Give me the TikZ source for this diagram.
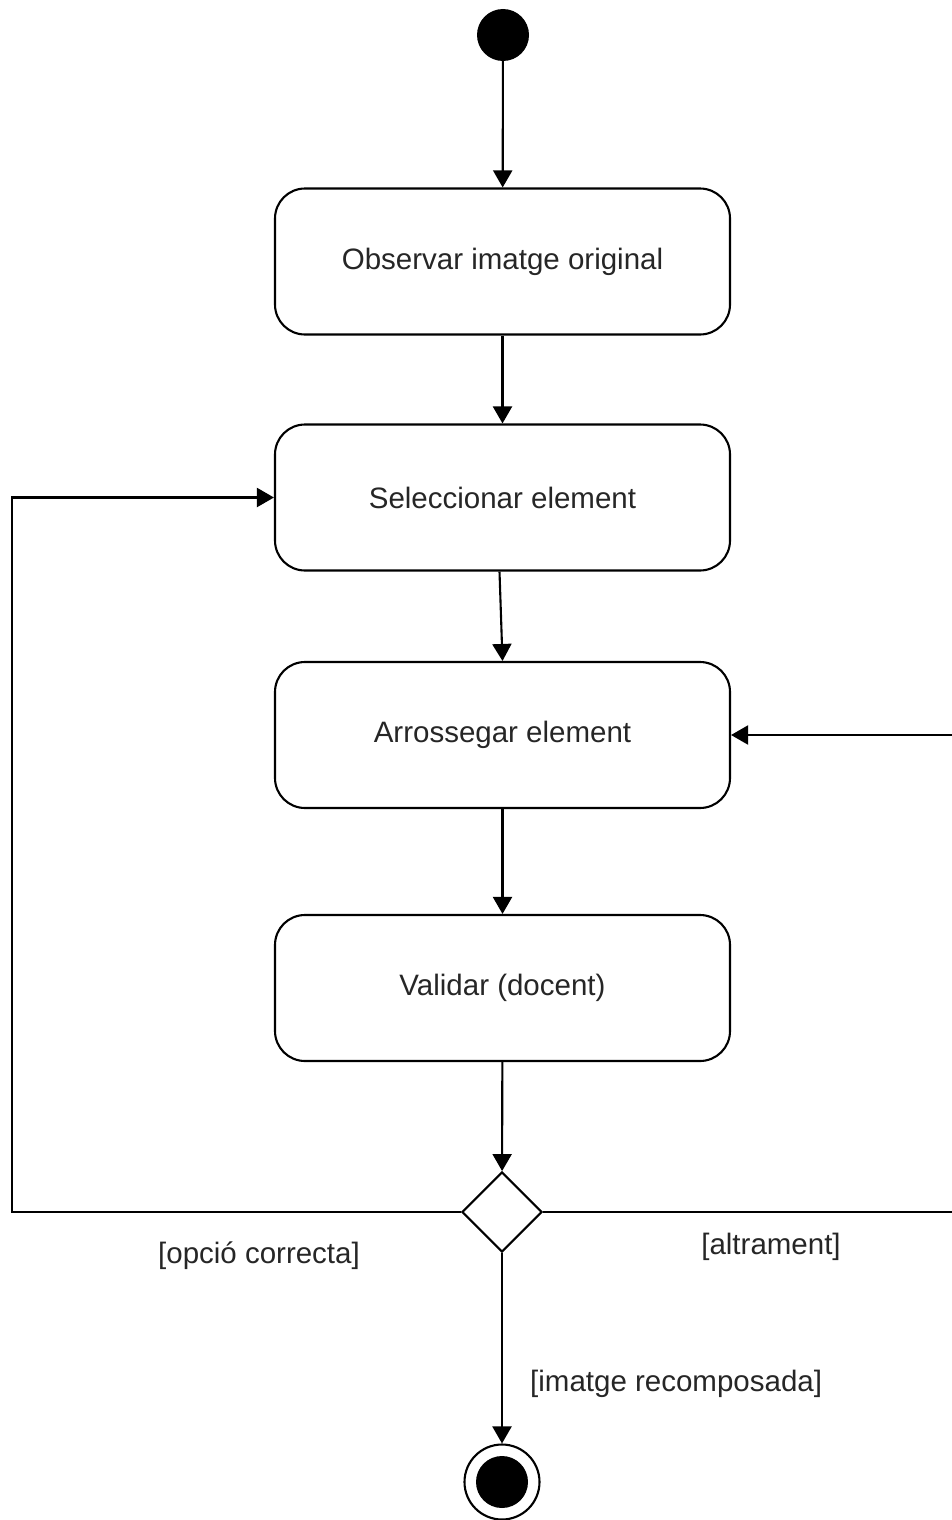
\documentclass[tikz,border=0pt]{standalone}
\usepackage{fontspec}
\setmainfont{Liberation Sans}
\usetikzlibrary{arrows.meta,shapes.geometric}
\begin{document}
\begin{tikzpicture}[x=1pt,y=-1pt,
  every node/.style={font=\fontsize{29.5}{34}\selectfont, text=black!85},
  action/.style={draw, line width=2.1pt, rounded corners=30pt,
    minimum width=455pt, minimum height=146pt, inner sep=0pt},
  flow/.style={line width=2.1pt, -{Triangle[length=17pt,width=19pt]}},
  guard/.style={inner sep=0pt}]
\useasboundingbox (0,0) rectangle (951,1520);

% initial and final states
\node[circle, fill=black, minimum size=52pt, inner sep=0pt] (start) at (503,35) {};
\node[circle, draw, line width=2.1pt, minimum size=75pt, inner sep=0pt] (stop) at (502,1482) {};
\node[circle, fill=black, minimum size=52pt, inner sep=0pt] at (stop.center) {};

% activities
\node[action] (obs) at (502.5,261.5) {\raisebox{-2pt}{Observar imatge original}};
\node[action] (sel) at (502.5,497.5) {\raisebox{-2pt}{Seleccionar element}};
\node[action] (arr) at (502.5,735) {\raisebox{-2pt}{Arrossegar element}};
\node[action] (val) at (502.5,988) {\raisebox{-2pt}{Validar (docent)}};

% decision
\node[diamond, draw, line width=2.1pt, minimum width=80pt, minimum height=80pt,
  inner sep=0pt, aspect=1] (dec) at (502,1212) {};

% corner points of the loops
\coordinate (lb) at (12,1212);
\coordinate (lt) at (12,497.5);
\coordinate (rb) at (953,1212);
\coordinate (rt) at (953,735);

% connectors
\draw[flow] (start) -- (obs);
\draw[flow] (obs) -- (sel);
\draw[flow] ([xshift=-3pt]sel.south) -- (arr.north);
\draw[flow] (arr) -- (val);
\draw[flow] (val) -- (dec);
\draw[flow] (dec.south) -- (stop);
\draw[flow] (dec.west) -- (lb) -- (lt) -- (sel.west);
\draw[flow] (dec.east) -- (rb) -- (rt) -- (arr.east);

% guards
\node[guard] (g1) at (259,1256) {[opció correcta]};
\node[guard] (g2) at (771,1247) {[altrament]};
\node[guard, anchor=west] (g3) at (530,1384) {[imatge recomposada]};
\end{tikzpicture}
\end{document}
